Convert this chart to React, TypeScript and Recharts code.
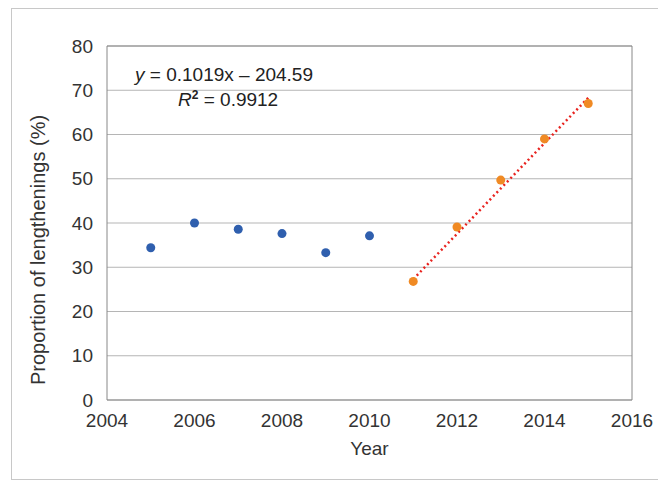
import React from "react";
import { ComposedChart, Scatter, XAxis, YAxis, CartesianGrid, ReferenceLine } from "recharts";

const blueYears = [2005, 2006, 2007, 2008, 2009, 2010];
const blueValues = [34.4, 40.0, 38.6, 37.6, 33.3, 37.1];
const orangeYears = [2011, 2012, 2013, 2014, 2015];
const orangeValues = [26.8, 39.1, 49.7, 59.0, 67.0];
const trendYears = [2011, 2015];
const trendValues = [27.3, 68.3];
const xTicks = [2004, 2006, 2008, 2010, 2012, 2014, 2016];
const yTicks = [0, 10, 20, 30, 40, 50, 60, 70, 80];

const blue = blueYears.map((x, i) => ({ x, y: blueValues[i] }));
const orange = orangeYears.map((x, i) => ({ x, y: orangeValues[i] }));
const trend = trendYears.map((x, i) => ({ x, y: trendValues[i] }));

const font = "'Liberation Sans', Arial, sans-serif";
const tick = { fill: "#333", fontSize: 19, fontFamily: font };

export default function App() {
  return (
    <div style={{ position: "relative", width: 658, height: 477, fontFamily: font }}>
      <div style={{ position: "absolute", left: 3, top: 0, width: 670, height: 470, border: "1px solid #c8c8c8" }} />
      <ComposedChart width={658} height={477} margin={{ left: 0, right: 34, top: 38, bottom: 0 }}>
        <CartesianGrid horizontal vertical={false} stroke="#b5b5b5" />
        <XAxis type="number" dataKey="x" domain={[2004, 2016]} ticks={xTicks} tick={tick} axisLine={{ stroke: "#888" }} tickLine={false} height={85} tickMargin={8}
          label={{ value: "Year", position: "insideBottom", offset: 30, fill: "#333", fontSize: 19, fontFamily: font }} />
        <YAxis type="number" dataKey="y" domain={[0, 80]} ticks={yTicks} tick={tick} axisLine={{ stroke: "#888" }} tickLine={false} width={99} tickMargin={8} />
        <ReferenceLine x={2016} stroke="#888" />
        <ReferenceLine y={80} stroke="#888" />
        <Scatter data={blue} fill="#2f5fae" isAnimationActive={false} shape={(p: any) => <circle cx={p.cx} cy={p.cy} r={4.5} fill="#2f5fae" />} />
        <Scatter data={trend} isAnimationActive={false} line={{ stroke: "#e8231f", strokeWidth: 2.5, strokeDasharray: "2 3" }} shape={() => <g />} />
        <Scatter data={orange} fill="#f08a24" isAnimationActive={false} shape={(p: any) => <circle cx={p.cx} cy={p.cy} r={4.5} fill="#f08a24" />} />
      </ComposedChart>
      <div style={{ position: "absolute", left: 30, top: 242, width: 0, height: 0 }}>
        <div style={{ position: "absolute", transform: "translate(-50%,-50%) rotate(-90deg)", fontSize: 20, color: "#333", whiteSpace: "nowrap" }}>
          Proportion of lengthenings (%)
        </div>
      </div>
      <div style={{ position: "absolute", left: 127, top: 56, fontSize: 19, color: "#222", whiteSpace: "nowrap" }}>
        <i>y</i> = 0.1019x – 204.59
      </div>
      <div style={{ position: "absolute", left: 170, top: 80, fontSize: 19, color: "#222", whiteSpace: "nowrap" }}>
        <i>R</i><sup style={{ fontSize: 12 }}><b>2</b></sup> = 0.9912
      </div>
    </div>
  );
}
